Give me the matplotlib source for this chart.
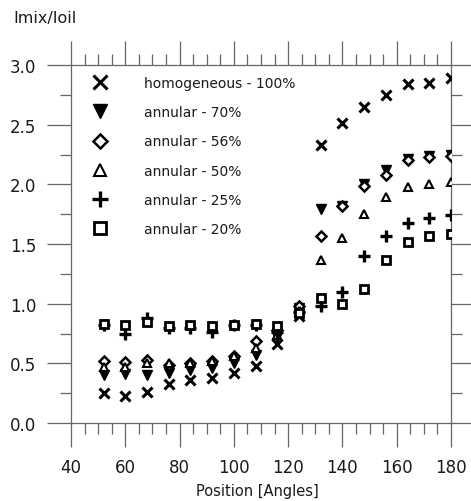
import matplotlib
matplotlib.use("Agg")
import matplotlib.pyplot as plt
from matplotlib.ticker import MultipleLocator

# angular positions [deg]
angles = [52, 60, 68, 76, 84, 92, 100, 108, 116, 124, 132, 140, 148, 156, 164, 172, 180]

# Imix/Ioil per flow regime
hom_100 = [0.25, 0.23, 0.26, 0.33, 0.36, 0.38, 0.42, 0.48, 0.66, 0.90, 2.33, 2.51, 2.65, 2.75, 2.84, 2.85, 2.89]
ann_70 = [0.40, 0.41, 0.40, 0.42, 0.44, 0.46, 0.50, 0.57, 0.72, 0.96, 1.79, 1.82, 2.00, 2.12, 2.21, 2.24, 2.25]
ann_56 = [0.52, 0.51, 0.53, 0.49, 0.50, 0.52, 0.56, 0.69, 0.78, 0.98, 1.57, 1.82, 1.99, 2.08, 2.20, 2.23, 2.24]
ann_50 = [0.47, 0.47, 0.50, 0.50, 0.50, 0.52, 0.56, 0.63, 0.74, 0.93, 1.37, 1.55, 1.75, 1.89, 1.98, 2.00, 2.02]
ann_25 = [0.82, 0.75, 0.88, 0.80, 0.80, 0.76, 0.82, 0.82, 0.76, 0.93, 0.98, 1.10, 1.40, 1.57, 1.68, 1.72, 1.74]
ann_20 = [0.83, 0.82, 0.85, 0.81, 0.82, 0.81, 0.82, 0.83, 0.81, 0.92, 1.05, 1.00, 1.12, 1.37, 1.52, 1.57, 1.58]

labels = ["homogeneous - 100%", "annular - 70%", "annular - 56%",
          "annular - 50%", "annular - 25%", "annular - 20%"]

plt.rcParams["font.family"] = "DejaVu Sans"
txt = "#1a1a1a"
axcol = "#666666"

fig = plt.figure(figsize=(4.71, 5.02), dpi=100)
ax = fig.add_axes([71 / 471, 1 - 424 / 502, 380 / 471, 358 / 502])

series = [
    (hom_100, dict(marker="x", ms=7, mew=2.2, mfc="black", mec="black")),
    (ann_70, dict(marker="v", ms=7, mew=1, mfc="black", mec="black")),
    (ann_56, dict(marker="D", ms=5, mew=1.8, mfc="white", mec="black")),
    (ann_50, dict(marker="^", ms=5.5, mew=1.5, mfc="white", mec="black")),
    (ann_25, dict(marker="+", ms=8, mew=2.4, mfc="black", mec="black")),
    (ann_20, dict(marker="s", ms=6, mew=2, mfc="white", mec="black")),
]
handles = []
for (vals, style), lab in zip(series, labels):
    h, = ax.plot(angles, vals, linestyle="none", label=lab, zorder=3, **style)
    handles.append(h)

ax.set_xlim(40, 180)
ax.set_ylim(0, 3)
ax.xaxis.set_major_locator(MultipleLocator(20))
ax.xaxis.set_minor_locator(MultipleLocator(5))
ax.yaxis.set_major_locator(MultipleLocator(0.5))
ax.yaxis.set_minor_locator(MultipleLocator(0.25))
ax.yaxis.set_major_formatter(plt.FormatStrFormatter("%.1f"))

ax.tick_params(which="both", direction="out", top=True, right=True,
               labeltop=False, labelright=False, color=axcol, width=0.9)
ax.tick_params(which="major", length=17, labelsize=12, labelcolor=txt)
ax.tick_params(which="minor", length=8)
ax.tick_params(axis="x", which="major", pad=8)
ax.tick_params(axis="y", which="major", pad=8)
for sp in ax.spines.values():
    sp.set_color(axcol)
    sp.set_linewidth(0.9)

fig.text(13 / 471, 1 - 18 / 502, "Imix/Ioil", fontsize=11.5, color=txt,
         ha="left", va="center")
fig.text(257 / 471, 1 - 492 / 502, "Position [Angles]", fontsize=10.5,
         color=txt, ha="center", va="center")

ax.legend(handles=handles, loc="upper left", bbox_to_anchor=(0.043, 0.985),
          borderaxespad=0, frameon=False, fontsize=10, markerscale=1.5,
          handlelength=1.0, handletextpad=2.7, labelspacing=1.1,
          labelcolor=txt)

fig.savefig("out.png", dpi=100)
